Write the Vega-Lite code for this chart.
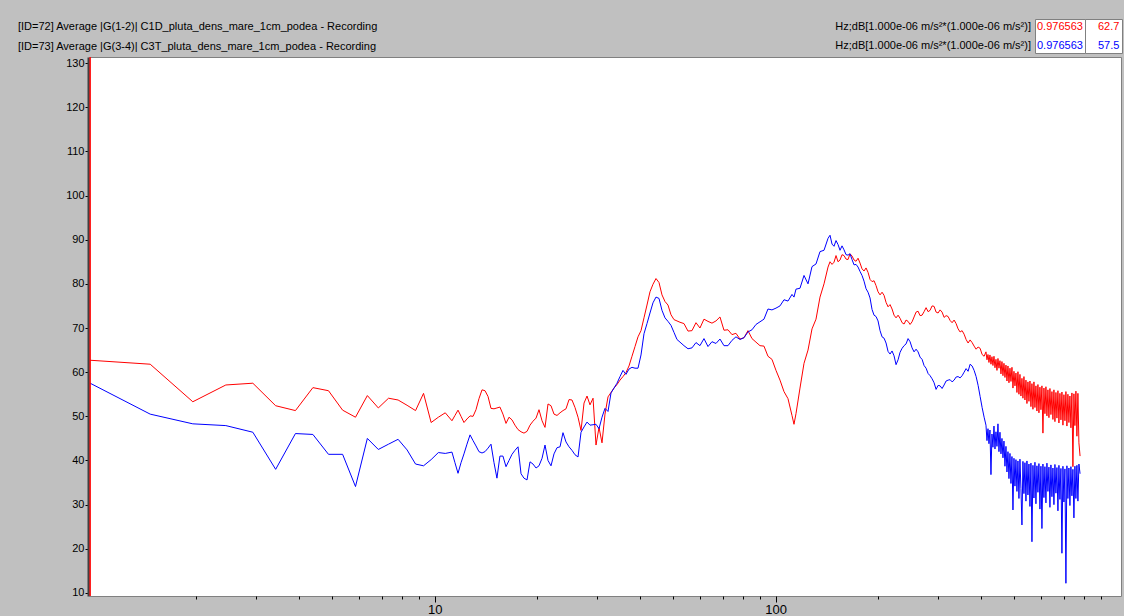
{
  "$schema": "https://vega.github.io/schema/vega-lite/v6.json",
  "width": 1032,
  "height": 539,
  "autosize": {"type": "none"},
  "padding": {"left": 89, "top": 57, "right": 3, "bottom": 20},
  "background": "#c0c0c0",
  "config": {
    "font": "Liberation Sans",
    "view": {"fill": "#ffffff", "stroke": "#808080", "strokeWidth": 1}
  },
  "title": {
    "text": ["[ID=72] Average |G(1-2)| C1D_pluta_dens_mare_1cm_podea - Recording", "[ID=73] Average |G(3-4)| C3T_pluta_dens_mare_1cm_podea - Recording"],
    "anchor": "start",
    "frame": "group",
    "dx": -71,
    "dy": 38,
    "offset": 5,
    "font": "Liberation Sans",
    "fontSize": 11,
    "fontWeight": "normal",
    "color": "#000000",
    "lineHeight": 20,
    "limit": 0
  },
  "encoding": {
    "x": {
      "field": "f",
      "type": "quantitative",
      "scale": {"type": "log", "domain": [0.969, 1030], "nice": false},
      "axis": {
        "values": [2,3,4,5,6,7,8,9,10,20,30,40,50,60,70,80,90,100,200,300,400,500,600,700,800,900],
        "labelExpr": "datum.value == 10 ? '10' : (datum.value == 100 ? '100' : '')",
        "tickSize": {"condition": {"test": "datum.value == 10 || datum.value == 100", "value": 6}, "value": 3},
        "tickColor": "#000000",
        "tickWidth": 1,
        "domain": false,
        "grid": false,
        "labelFont": "Liberation Sans",
        "labelFontSize": 13,
        "labelColor": "#000000",
        "labelPadding": 1,
        "labelOverlap": false,
        "labelFlush": false,
        "title": null
      }
    }
  },
  "layer": [
    {
      "data": {"values": [
        {"f":0.976563,"C1D":62.7,"C3T":57.5},
        {"f":1.464844,"C1D":61.8,"C3T":50.5},
        {"f":1.953125,"C1D":53.3,"C3T":48.3},
        {"f":2.441406,"C1D":57.1,"C3T":47.9},
        {"f":2.929688,"C1D":57.5,"C3T":46.4},
        {"f":3.417969,"C1D":52.4,"C3T":38.0},
        {"f":3.90625,"C1D":51.3,"C3T":46.1},
        {"f":4.394531,"C1D":56.5,"C3T":45.9},
        {"f":4.882813,"C1D":55.8,"C3T":41.4},
        {"f":5.371094,"C1D":51.4,"C3T":41.4},
        {"f":5.859375,"C1D":49.8,"C3T":34.1},
        {"f":6.347656,"C1D":54.7,"C3T":45.0},
        {"f":6.835938,"C1D":51.9,"C3T":42.5},
        {"f":7.324219,"C1D":54.1,"C3T":43.7},
        {"f":7.8125,"C1D":53.7,"C3T":44.8},
        {"f":8.300781,"C1D":52.5,"C3T":42.4},
        {"f":8.789063,"C1D":51.3,"C3T":39.2},
        {"f":9.277344,"C1D":55.2,"C3T":38.8},
        {"f":9.765625,"C1D":48.6,"C3T":40.2},
        {"f":10.253906,"C1D":49.8,"C3T":41.8},
        {"f":10.742188,"C1D":50.8,"C3T":41.6},
        {"f":11.24,"C1D":49.0,"C3T":41.9},
        {"f":11.47,"C1D":50.2,"C3T":39.5},
        {"f":11.71,"C1D":51.4,"C3T":37.1},
        {"f":11.95,"C1D":50.0,"C3T":39.5},
        {"f":12.19,"C1D":48.6,"C3T":41.5},
        {"f":12.44,"C1D":49.4,"C3T":43.7},
        {"f":12.70,"C1D":50.1,"C3T":45.8},
        {"f":12.96,"C1D":50.0,"C3T":44.5},
        {"f":13.22,"C1D":51.5,"C3T":43.3},
        {"f":13.49,"C1D":54.0,"C3T":42.0},
        {"f":13.77,"C1D":56.0,"C3T":41.7},
        {"f":14.05,"C1D":55.8,"C3T":42.0},
        {"f":14.34,"C1D":54.5,"C3T":42.8},
        {"f":14.63,"C1D":51.8,"C3T":43.7},
        {"f":14.93,"C1D":51.7,"C3T":39.5},
        {"f":15.23,"C1D":51.9,"C3T":36.0},
        {"f":15.54,"C1D":52.1,"C3T":41.0},
        {"f":15.86,"C1D":50.5,"C3T":41.0},
        {"f":16.19,"C1D":48.4,"C3T":38.6},
        {"f":16.52,"C1D":49.8,"C3T":40.0},
        {"f":16.86,"C1D":49.2,"C3T":41.4},
        {"f":17.20,"C1D":48.0,"C3T":42.3},
        {"f":17.56,"C1D":47.0,"C3T":43.1},
        {"f":17.92,"C1D":46.5,"C3T":37.0},
        {"f":18.28,"C1D":46.2,"C3T":36.0},
        {"f":18.66,"C1D":46.6,"C3T":35.6},
        {"f":19.04,"C1D":48.0,"C3T":39.7},
        {"f":19.43,"C1D":48.9,"C3T":39.2},
        {"f":19.83,"C1D":49.6,"C3T":38.3},
        {"f":20.23,"C1D":51.5,"C3T":38.8},
        {"f":20.65,"C1D":49.0,"C3T":40.5},
        {"f":21.07,"C1D":47.5,"C3T":43.5},
        {"f":21.50,"C1D":52.8,"C3T":40.0},
        {"f":21.94,"C1D":52.4,"C3T":38.8},
        {"f":22.39,"C1D":50.5,"C3T":41.5},
        {"f":22.85,"C1D":50.2,"C3T":42.9},
        {"f":23.32,"C1D":50.8,"C3T":43.1},
        {"f":23.79,"C1D":51.3,"C3T":46.3},
        {"f":24.28,"C1D":51.7,"C3T":44.2},
        {"f":24.78,"C1D":53.8,"C3T":43.1},
        {"f":25.28,"C1D":53.7,"C3T":42.3},
        {"f":25.80,"C1D":52.0,"C3T":41.3},
        {"f":26.33,"C1D":49.8,"C3T":40.8},
        {"f":26.87,"C1D":46.8,"C3T":46.4},
        {"f":27.42,"C1D":53.0,"C3T":47.6},
        {"f":27.98,"C1D":54.6,"C3T":48.7},
        {"f":28.55,"C1D":52.6,"C3T":48.0},
        {"f":29.14,"C1D":54.1,"C3T":48.1},
        {"f":29.73,"C1D":43.5,"C3T":48.2},
        {"f":30.34,"C1D":47.5,"C3T":47.2},
        {"f":30.96,"C1D":44.0,"C3T":49.8},
        {"f":31.59,"C1D":50.5,"C3T":51.8},
        {"f":32.24,"C1D":54.4,"C3T":51.1},
        {"f":32.90,"C1D":55.4,"C3T":55.3},
        {"f":33.57,"C1D":56.4,"C3T":56.4},
        {"f":34.26,"C1D":57.2,"C3T":57.5},
        {"f":34.96,"C1D":58.2,"C3T":59.0},
        {"f":35.67,"C1D":59.0,"C3T":60.4},
        {"f":36.40,"C1D":59.9,"C3T":59.5},
        {"f":37.15,"C1D":61.4,"C3T":60.7},
        {"f":37.91,"C1D":63.6,"C3T":61.1},
        {"f":38.69,"C1D":65.8,"C3T":60.9},
        {"f":39.48,"C1D":68.0,"C3T":60.9},
        {"f":40.29,"C1D":69.4,"C3T":63.9},
        {"f":41.11,"C1D":72.3,"C3T":68.7},
        {"f":41.95,"C1D":75.2,"C3T":71.0},
        {"f":42.81,"C1D":78.2,"C3T":73.4},
        {"f":43.68,"C1D":79.9,"C3T":75.7},
        {"f":44.58,"C1D":81.2,"C3T":77.0},
        {"f":45.49,"C1D":80.3,"C3T":76.7},
        {"f":46.42,"C1D":77.5,"C3T":74.0},
        {"f":47.37,"C1D":76.0,"C3T":72.3},
        {"f":48.34,"C1D":75.2,"C3T":71.5},
        {"f":49.33,"C1D":73.0,"C3T":70.6},
        {"f":50.34,"C1D":71.9,"C3T":69.0},
        {"f":51.37,"C1D":71.6,"C3T":67.4},
        {"f":52.42,"C1D":71.3,"C3T":66.8},
        {"f":53.85,"C1D":71.0,"C3T":66.0},
        {"f":55.33,"C1D":69.3,"C3T":65.3},
        {"f":56.84,"C1D":69.4,"C3T":65.5},
        {"f":58.40,"C1D":71.2,"C3T":66.7},
        {"f":59.99,"C1D":70.0,"C3T":66.0},
        {"f":61.64,"C1D":72.0,"C3T":67.6},
        {"f":63.33,"C1D":71.5,"C3T":65.8},
        {"f":65.06,"C1D":71.1,"C3T":66.9},
        {"f":66.84,"C1D":71.6,"C3T":66.5},
        {"f":68.67,"C1D":72.5,"C3T":67.5},
        {"f":70.55,"C1D":69.5,"C3T":66.0},
        {"f":72.48,"C1D":69.6,"C3T":66.0},
        {"f":74.47,"C1D":68.5,"C3T":67.2},
        {"f":76.50,"C1D":68.8,"C3T":68.0},
        {"f":78.60,"C1D":67.5,"C3T":67.4},
        {"f":80.75,"C1D":67.8,"C3T":67.8},
        {"f":82.96,"C1D":69.4,"C3T":69.1},
        {"f":85.24,"C1D":67.6,"C3T":69.6},
        {"f":87.57,"C1D":66.8,"C3T":70.8},
        {"f":89.97,"C1D":66.0,"C3T":71.4},
        {"f":92.43,"C1D":65.9,"C3T":72.0},
        {"f":94.96,"C1D":63.6,"C3T":74.3},
        {"f":97.56,"C1D":62.9,"C3T":74.1},
        {"f":100.24,"C1D":60.4,"C3T":74.5},
        {"f":102.98,"C1D":58.2,"C3T":75.0},
        {"f":105.80,"C1D":55.6,"C3T":76.4},
        {"f":108.70,"C1D":54.0,"C3T":76.1},
        {"f":111.68,"C1D":50.2,"C3T":77.6},
        {"f":113.2,"C1D":48.2,"C3T":77.0},
        {"f":114.74,"C1D":50.6,"C3T":78.8},
        {"f":117.88,"C1D":56.4,"C3T":79.0},
        {"f":121.11,"C1D":62.0,"C3T":81.9},
        {"f":124.43,"C1D":65.0,"C3T":80.0},
        {"f":127.84,"C1D":69.8,"C3T":83.9},
        {"f":131.34,"C1D":72.0,"C3T":84.5},
        {"f":134.94,"C1D":77.0,"C3T":87.3},
        {"f":138.64,"C1D":80.0,"C3T":87.6},
        {"f":142.44,"C1D":83.8,"C3T":90.3},
        {"f":144.38,"C1D":85.0,"C3T":91.0},
        {"f":146.34,"C1D":84.4,"C3T":89.0},
        {"f":148.33,"C1D":84.9,"C3T":88.5},
        {"f":150.35,"C1D":86.4,"C3T":89.8},
        {"f":152.39,"C1D":85.0,"C3T":88.9},
        {"f":154.46,"C1D":85.4,"C3T":87.6},
        {"f":156.56,"C1D":86.6,"C3T":88.6},
        {"f":158.70,"C1D":86.4,"C3T":87.7},
        {"f":160.86,"C1D":85.6,"C3T":86.6},
        {"f":163.04,"C1D":85.5,"C3T":86.5},
        {"f":165.26,"C1D":86.8,"C3T":86.8},
        {"f":167.51,"C1D":86.3,"C3T":85.5},
        {"f":169.79,"C1D":85.4,"C3T":84.3},
        {"f":172.10,"C1D":85.1,"C3T":84.4},
        {"f":174.44,"C1D":85.8,"C3T":83.8},
        {"f":176.81,"C1D":84.7,"C3T":82.8},
        {"f":179.21,"C1D":83.4,"C3T":81.9},
        {"f":181.66,"C1D":82.9,"C3T":80.6},
        {"f":184.13,"C1D":83.6,"C3T":78.9},
        {"f":186.63,"C1D":82.6,"C3T":78.1},
        {"f":189.17,"C1D":81.0,"C3T":76.8},
        {"f":191.75,"C1D":80.5,"C3T":74.2},
        {"f":194.36,"C1D":80.7,"C3T":72.9},
        {"f":197.00,"C1D":79.6,"C3T":72.6},
        {"f":199.68,"C1D":78.2,"C3T":71.6},
        {"f":202.40,"C1D":77.5,"C3T":69.4},
        {"f":205.15,"C1D":78.1,"C3T":68.0},
        {"f":207.94,"C1D":77.4,"C3T":67.7},
        {"f":210.77,"C1D":75.8,"C3T":66.6},
        {"f":213.64,"C1D":74.8,"C3T":64.7},
        {"f":216.55,"C1D":75.3,"C3T":64.1},
        {"f":219.49,"C1D":74.3,"C3T":64.8},
        {"f":222.47,"C1D":72.9,"C3T":63.7},
        {"f":225.51,"C1D":72.3,"C3T":61.7},
        {"f":228.58,"C1D":72.9,"C3T":62.8},
        {"f":231.69,"C1D":72.2,"C3T":64.5},
        {"f":234.84,"C1D":71.2,"C3T":65.4},
        {"f":238.03,"C1D":70.9,"C3T":66.0},
        {"f":241.27,"C1D":71.8,"C3T":66.4},
        {"f":244.56,"C1D":71.5,"C3T":67.6},
        {"f":247.89,"C1D":70.8,"C3T":66.9},
        {"f":251.26,"C1D":71.4,"C3T":65.5},
        {"f":254.68,"C1D":72.5,"C3T":64.6},
        {"f":258.14,"C1D":73.6,"C3T":65.2},
        {"f":261.65,"C1D":73.8,"C3T":64.6},
        {"f":265.21,"C1D":72.8,"C3T":63.4},
        {"f":268.82,"C1D":72.9,"C3T":62.9},
        {"f":272.48,"C1D":73.7,"C3T":61.5},
        {"f":276.19,"C1D":74.6,"C3T":60.9},
        {"f":279.94,"C1D":73.7,"C3T":59.7},
        {"f":283.75,"C1D":74.0,"C3T":59.2},
        {"f":287.61,"C1D":75.0,"C3T":58.5},
        {"f":291.52,"C1D":74.9,"C3T":57.6},
        {"f":295.49,"C1D":73.6,"C3T":56.1},
        {"f":299.51,"C1D":73.4,"C3T":57.0},
        {"f":303.59,"C1D":74.1,"C3T":56.9},
        {"f":307.72,"C1D":73.6,"C3T":56.3},
        {"f":311.91,"C1D":72.4,"C3T":57.1},
        {"f":316.15,"C1D":72.8,"C3T":58.0},
        {"f":320.45,"C1D":72.6,"C3T":58.2},
        {"f":324.81,"C1D":71.7,"C3T":58.3},
        {"f":329.23,"C1D":71.2,"C3T":57.8},
        {"f":333.71,"C1D":71.8,"C3T":58.2},
        {"f":338.25,"C1D":71.0,"C3T":58.9},
        {"f":342.85,"C1D":69.8,"C3T":59.0},
        {"f":347.52,"C1D":69.1,"C3T":58.7},
        {"f":352.25,"C1D":69.4,"C3T":59.2},
        {"f":357.04,"C1D":68.6,"C3T":60.0},
        {"f":361.89,"C1D":67.4,"C3T":60.8},
        {"f":366.82,"C1D":66.6,"C3T":60.2},
        {"f":371.80,"C1D":67.3,"C3T":61.8},
        {"f":376.87,"C1D":66.7,"C3T":61.4},
        {"f":382.00,"C1D":65.9,"C3T":60.4},
        {"f":387.19,"C1D":65.2,"C3T":59.0},
        {"f":392.46,"C1D":65.7,"C3T":57.0},
        {"f":397.80,"C1D":65.4,"C3T":54.5},
        {"f":403.21,"C1D":64.0,"C3T":52.0},
        {"f":408.70,"C1D":63.6,"C3T":49.8},
        {"f":413.85,"C1D":64.6,"C3T":48.0},
        {"f":416.65,"C1D":62.8,"C3T":44.5},
        {"f":419.47,"C1D":64.0,"C3T":47.2},
        {"f":422.31,"C1D":62.2,"C3T":43.8},
        {"f":425.17,"C1D":63.9,"C3T":46.9},
        {"f":428.05,"C1D":61.8,"C3T":36.8},
        {"f":430.95,"C1D":63.5,"C3T":46.0},
        {"f":433.87,"C1D":61.5,"C3T":43.0},
        {"f":436.82,"C1D":63.6,"C3T":47.8},
        {"f":439.78,"C1D":61.0,"C3T":42.6},
        {"f":442.74,"C1D":62.9,"C3T":46.5},
        {"f":445.74,"C1D":60.4,"C3T":43.2},
        {"f":448.76,"C1D":63.1,"C3T":48.3},
        {"f":451.80,"C1D":60.9,"C3T":42.0},
        {"f":454.86,"C1D":62.6,"C3T":46.4},
        {"f":457.94,"C1D":59.6,"C3T":41.5},
        {"f":461.05,"C1D":62.4,"C3T":45.0},
        {"f":464.17,"C1D":59.2,"C3T":40.6},
        {"f":467.32,"C1D":62.0,"C3T":44.4},
        {"f":470.48,"C1D":58.8,"C3T":38.7},
        {"f":473.65,"C1D":61.6,"C3T":43.2},
        {"f":476.86,"C1D":58.0,"C3T":37.4},
        {"f":480.09,"C1D":61.4,"C3T":42.0},
        {"f":483.35,"C1D":57.6,"C3T":35.9},
        {"f":486.62,"C1D":60.9,"C3T":41.6},
        {"f":489.92,"C1D":57.9,"C3T":34.8},
        {"f":493.24,"C1D":61.1,"C3T":40.9},
        {"f":496.58,"C1D":56.4,"C3T":28.8},
        {"f":499.94,"C1D":60.2,"C3T":40.5},
        {"f":503.33,"C1D":56.9,"C3T":34.2},
        {"f":506.71,"C1D":59.8,"C3T":40.2},
        {"f":510.14,"C1D":55.4,"C3T":33.0},
        {"f":513.60,"C1D":60.1,"C3T":39.9},
        {"f":517.08,"C1D":55.0,"C3T":31.4},
        {"f":520.58,"C1D":59.5,"C3T":40.3},
        {"f":524.11,"C1D":54.6,"C3T":33.6},
        {"f":527.66,"C1D":58.6,"C3T":25.4},
        {"f":531.23,"C1D":54.1,"C3T":39.8},
        {"f":534.83,"C1D":59.0,"C3T":32.5},
        {"f":538.46,"C1D":53.7,"C3T":39.5},
        {"f":542.09,"C1D":58.2,"C3T":30.8},
        {"f":545.76,"C1D":52.9,"C3T":39.9},
        {"f":549.46,"C1D":57.8,"C3T":32.2},
        {"f":553.18,"C1D":53.4,"C3T":39.2},
        {"f":556.93,"C1D":58.0,"C3T":29.6},
        {"f":560.70,"C1D":52.2,"C3T":39.4},
        {"f":564.50,"C1D":57.4,"C3T":21.6},
        {"f":568.33,"C1D":51.6,"C3T":38.9},
        {"f":572.18,"C1D":57.8,"C3T":31.5},
        {"f":576.05,"C1D":52.0,"C3T":39.6},
        {"f":579.93,"C1D":56.9,"C3T":30.2},
        {"f":583.86,"C1D":51.2,"C3T":38.8},
        {"f":587.81,"C1D":57.2,"C3T":32.8},
        {"f":591.80,"C1D":50.8,"C3T":39.3},
        {"f":595.81,"C1D":56.6,"C3T":29.0},
        {"f":599.84,"C1D":51.5,"C3T":38.7},
        {"f":603.91,"C1D":56.9,"C3T":24.6},
        {"f":608.00,"C1D":46.2,"C3T":39.2},
        {"f":612.12,"C1D":56.4,"C3T":31.6},
        {"f":616.27,"C1D":50.6,"C3T":38.6},
        {"f":620.42,"C1D":56.7,"C3T":30.4},
        {"f":624.62,"C1D":50.1,"C3T":39.4},
        {"f":628.86,"C1D":56.0,"C3T":33.0},
        {"f":633.12,"C1D":49.7,"C3T":38.5},
        {"f":637.41,"C1D":56.3,"C3T":29.4},
        {"f":641.73,"C1D":50.4,"C3T":39.0},
        {"f":646.07,"C1D":55.6,"C3T":31.8},
        {"f":650.45,"C1D":49.3,"C3T":38.3},
        {"f":654.86,"C1D":56.0,"C3T":30.0},
        {"f":659.29,"C1D":48.8,"C3T":39.1},
        {"f":663.73,"C1D":55.4,"C3T":32.6},
        {"f":668.23,"C1D":49.6,"C3T":38.4},
        {"f":672.75,"C1D":55.8,"C3T":28.6},
        {"f":677.31,"C1D":48.5,"C3T":38.9},
        {"f":681.90,"C1D":55.2,"C3T":31.2},
        {"f":686.52,"C1D":49.2,"C3T":38.2},
        {"f":691.17,"C1D":55.5,"C3T":19.0},
        {"f":695.86,"C1D":48.0,"C3T":38.7},
        {"f":700.57,"C1D":54.9,"C3T":30.6},
        {"f":705.32,"C1D":49.0,"C3T":38.1},
        {"f":710.06,"C1D":55.6,"C3T":12.2},
        {"f":714.87,"C1D":47.8,"C3T":38.8},
        {"f":719.72,"C1D":55.0,"C3T":31.4},
        {"f":724.59,"C1D":48.6,"C3T":38.3},
        {"f":729.50,"C1D":54.6,"C3T":29.8},
        {"f":734.45,"C1D":47.4,"C3T":38.6},
        {"f":739.42,"C1D":55.3,"C3T":32.0},
        {"f":744.43,"C1D":38.6,"C3T":38.0},
        {"f":749.48,"C1D":55.1,"C3T":27.0},
        {"f":754.55,"C1D":47.9,"C3T":38.7},
        {"f":759.63,"C1D":55.7,"C3T":31.4},
        {"f":764.78,"C1D":45.5,"C3T":38.9},
        {"f":769.96,"C1D":55.2,"C3T":30.8},
        {"f":775.18,"C1D":44.0,"C3T":39.2},
        {"f":781.25,"C1D":41.0,"C3T":37.0}
      ]},
      "transform": [
        {"fold": ["C1D", "C3T"], "as": ["series", "v"]},
        {"filter": "isValid(datum.v)"}
      ],
      "mark": {"type": "line", "strokeWidth": 1, "clip": true},
      "encoding": {
        "y": {
          "field": "v",
          "type": "quantitative",
          "scale": {"domain": [9.32, 131.36], "nice": false, "zero": false},
          "axis": {
            "values": [10,20,30,40,50,60,70,80,90,100,110,120,130],
            "tickSize": 3,
            "tickColor": "#000000",
            "domainColor": "#404040",
            "domainWidth": 2,
            "offset": 1,
            "labelFont": "Liberation Sans",
            "labelFontSize": 11,
            "labelColor": "#000000",
            "labelPadding": 1,
            "labelFlush": false,
            "grid": false,
            "title": null
          }
        },
        "color": {
          "field": "series",
          "type": "nominal",
          "scale": {"domain": ["C1D", "C3T"], "range": ["#ff0000", "#0000ff"]},
          "legend": {
            "orient": "none",
            "legendX": 946,
            "legendY": -38,
            "title": null,
            "labelExpr": "'0.976563'",
            "labelColor": {"expr": "datum.value == 'C1D' ? '#ff0000' : '#0000ff'"},
            "labelFont": "Liberation Sans",
            "labelFontSize": 11,
            "labelLimit": 0,
            "symbolType": "square",
            "symbolSize": 1,
            "symbolOpacity": 0,
            "symbolStrokeWidth": 0,
            "labelOffset": -11,
            "padding": 2,
            "rowPadding": 7,
            "fillColor": "#ffffff",
            "strokeColor": "#808080"
          }
        }
      }
    },
    {
      "data": {"values": [
        {"f": 0.976563, "series": "C3T", "u": "u2", "val": "57.5"},
        {"f": 0.976563, "series": "C1D", "u": "u1", "val": "62.7"}
      ]},
      "mark": {"type": "rule", "color": "#ff0000", "clip": true},
      "encoding": {
        "strokeDash": {
          "field": "u",
          "type": "nominal",
          "scale": {"domain": ["u1", "u2"], "range": [[1, 0], [1, 0]]},
          "legend": {
            "orient": "none",
            "legendX": 940,
            "legendY": -38,
            "title": null,
            "labelExpr": "'Hz;dB[1.000e-06 m/s²*(1.000e-06 m/s²)]'",
            "labelAlign": "right",
            "labelColor": "#000000",
            "labelFont": "Liberation Sans",
            "labelFontSize": 11,
            "labelLimit": 0,
            "symbolType": "square",
            "symbolSize": 1,
            "symbolOpacity": 0,
            "symbolStrokeWidth": 0,
            "labelOffset": -11,
            "padding": 2,
            "rowPadding": 7
          }
        },
        "strokeWidth": {
          "field": "val",
          "type": "ordinal",
          "scale": {"domain": ["62.7", "57.5"], "range": [1, 1]},
          "legend": {
            "orient": "none",
            "legendX": 996,
            "legendY": -38,
            "title": null,
            "labelColor": {"expr": "datum.value == '62.7' ? '#ff0000' : '#0000ff'"},
            "labelFont": "Liberation Sans",
            "labelFontSize": 11,
            "labelLimit": 0,
            "symbolType": "square",
            "symbolSize": 100,
            "symbolOpacity": 0,
            "symbolStrokeWidth": 0,
            "labelOffset": 0,
            "padding": 2,
            "rowPadding": 7,
            "fillColor": "#ffffff",
            "strokeColor": "#808080"
          }
        }
      }
    }
  ]
}
